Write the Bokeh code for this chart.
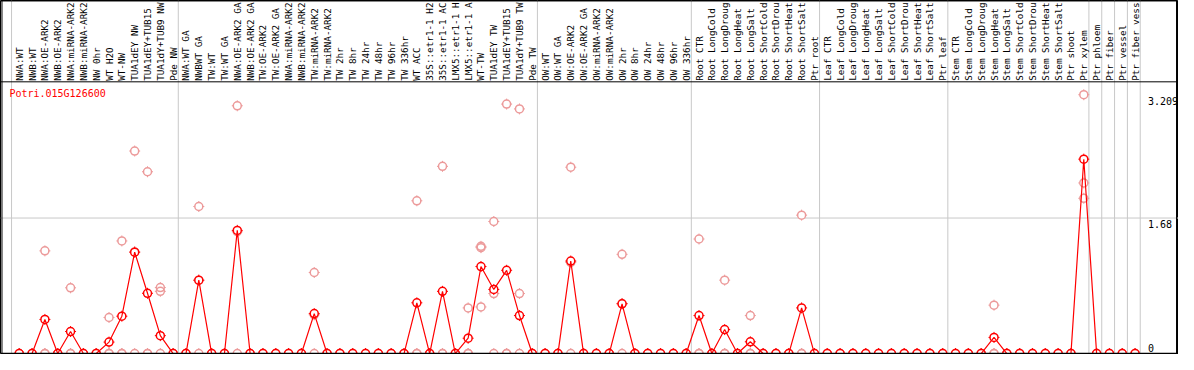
import numpy as np
from bokeh.plotting import figure
from bokeh.models import Range1d, Span, ColumnDataSource
from bokeh.core.properties import value
from bokeh.embed import file_html
from bokeh.resources import INLINE

gene = "Potri.015G126600"

labels = [
    "NWA:WT", "NWB:WT", "NWA:OE-ARK2", "NWB:OE-ARK2", "NWA:miRNA-ARK2", "NWB:miRNA-ARK2",
    "NW 0hr", "WT H2O", "WT-NW", "TUA1dEY NW", "TUA1dEY+TUB15 NW", "TUA1dY+TUB9 NW", "Pde NW",
    "NWA:WT GA", "NWBWT GA", "TW:WT", "TW:WT GA", "NWA:OE-ARK2 GA", "NWB:OE-ARK2 GA",
    "TW:OE-ARK2", "TW:OE-ARK2 GA", "NWA:miRNA-ARK2 GA", "NWB:miRNA-ARK2 GA", "TW:miRNA-ARK2",
    "TW:miRNA-ARK2 GA", "TW 2hr", "TW 8hr", "TW 24hr", "TW 48hr", "TW 96hr", "TW 336hr",
    "WT ACC", "35S::etr1-1 H2O", "35S::etr1-1 ACC", "LMX5::etr1-1 H2O", "LMX5::etr1-1 ACC",
    "WT-TW", "TUA1dEY TW", "TUA1dEY+TUB15 TW", "TUA1dY+TUB9 TW", "Pde TW",
    "OW:WT", "OW:WT GA", "OW:OE-ARK2", "OW:OE-ARK2 GA", "OW:miRNA-ARK2", "OW:miRNA-ARK2 GA",
    "OW 2hr", "OW 8hr", "OW 24hr", "OW 48hr", "OW 96hr", "OW 336hr",
    "Root CTR", "Root LongCold", "Root LongDrought", "Root LongHeat", "Root LongSalt",
    "Root ShortCold", "Root ShortDrought", "Root ShortHeat", "Root ShortSalt", "Ptr root",
    "Leaf CTR", "Leaf LongCold", "Leaf LongDrought", "Leaf LongHeat", "Leaf LongSalt",
    "Leaf ShortCold", "Leaf ShortDrought", "Leaf ShortHeat", "Leaf ShortSalt", "Ptr leaf",
    "Stem CTR", "Stem LongCold", "Stem LongDrought", "Stem LongHeat", "Stem LongSalt",
    "Stem ShortCold", "Stem ShortDrought", "Stem ShortHeat", "Stem ShortSalt", "Ptr shoot",
    "Ptr xylem", "Ptr phloem", "Ptr fiber", "Ptr vessel", "Ptr fiber vessel",
]

group_sizes = [13, 28, 12, 10, 10, 11, 1, 1, 1, 1]

means = [
    0, 0, 0.423, 0, 0.273, 0, 0, 0.142, 0.463, 1.257, 0.747, 0.222, 0,
    0, 0.910, 0, 0, 1.527, 0, 0, 0, 0, 0, 0.495, 0, 0, 0, 0, 0, 0, 0,
    0.629, 0, 0.771, 0, 0.190, 1.079, 0.795, 1.032, 0.471, 0,
    0, 0, 1.147, 0, 0, 0, 0.617, 0, 0, 0, 0, 0,
    0.471, 0, 0.297, 0, 0.146, 0, 0, 0, 0.566, 0,
    0, 0, 0, 0, 0, 0, 0, 0, 0, 0,
    0, 0, 0, 0.200, 0, 0, 0, 0, 0, 0, 2.410,
    0, 0, 0, 0,
]

rep_a = [
    0, 0, 1.273, 0, 0.815, 0, 0, 0.447, 1.396, 2.511, 2.254, 0.818, 0,
    0, 1.823, 0, 0, 3.072, 0, 0, 0, 0, 0, 1.005, 0, 0, 0, 0, 0, 0, 0,
    1.894, 0, 2.321, 0, 0.566, 1.329, 1.637, 3.093, 3.033, 0,
    0, 0, 2.310, 0, 0, 0, 1.230, 0, 0, 0, 0, 0,
    1.420, 0, 0.910, 0, 0.471, 0, 0, 0, 1.716, 0,
    0, 0, 0, 0, 0, 0, 0, 0, 0, 0,
    0, 0, 0, 0.600, 0, 0, 0, 0, 0, 0, 3.209,
    0, 0, 0, 0,
]

rep_b = [
    0, 0, 0, 0, 0, 0, 0, 0, 0, 1.260, 0, 0.771, 0,
    0, 0.907, 0, 0, 1.510, 0, 0, 0, 0, 0, 0.480, 0, 0, 0, 0, 0, 0, 0,
    0, 0, 0, 0, 0, 1.313, 0.744, 0, 0.744, 0,
    0, 0, 1.130, 0, 0, 0, 0.620, 0, 0, 0, 0, 0,
    0, 0, 0, 0, 0, 0, 0, 0, 0, 0,
    0, 0, 0, 0, 0, 0, 0, 0, 0, 0,
    0, 0, 0, 0, 0, 0, 0, 0, 0, 0, 2.115,
    0, 0, 0, 0,
]

rep_c = [
    0, 0, 0, 0, 0, 0, 0, 0, 0, 0, 0, 0, 0,
    0, 0, 0, 0, 0, 0, 0, 0, 0, 0, 0, 0, 0, 0, 0, 0, 0, 0,
    0, 0, 0, 0, 0, 0.578, 0, 0, 0, 0,
    0, 0, 0, 0, 0, 0, 0, 0, 0, 0, 0, 0,
    0, 0, 0, 0, 0, 0, 0, 0, 0, 0,
    0, 0, 0, 0, 0, 0, 0, 0, 0, 0,
    0, 0, 0, 0, 0, 0, 0, 0, 0, 0, 1.925,
    0, 0, 0, 0,
]

ticks = [3.209, 1.68, 0]
tick_labels = ["3.209", "1.68", "0"]

# ---------------- layout ----------------
W, H = 1178, 354
PX_X = 13.0          # reference pixels per category
PX_Y = 84.3          # reference pixels per unit
REF_W, REF_H = 1194, 370
X0_REF, Y0_REF = 19, 369   # reference pixel of category 0 / value 0
MAX_CHARS = 14             # header column shows at most this many characters

def vx(px):  # reference x pixel -> data x
    return (px - X0_REF) / PX_X

def vy(py):  # reference y pixel -> data y
    return (Y0_REF - py) / PX_Y

FONT = value("DejaVu Sans Mono")
RED = "#ff0000"
PINK = "#ec9a9a"
GRAY = "#c8c8c8"

p = figure(width=W, height=H, output_backend="svg", toolbar_location=None,
           x_range=Range1d(vx(0), vx(REF_W)), y_range=Range1d(vy(REF_H), vy(0)),
           min_border=0, min_border_left=0, min_border_right=0,
           min_border_top=0, min_border_bottom=0)
p.xaxis.visible = False
p.yaxis.visible = False
p.grid.visible = False
p.outline_line_color = "black"
p.outline_line_width = 1
p.background_fill_color = "white"
p.border_fill_color = "white"

n = len(labels)
xs = np.arange(n)

# group separators
bounds = [-0.6] + [c - 0.6 for c in np.cumsum(group_sizes)]
for b in bounds:
    p.add_layout(Span(location=b, dimension="height", line_color=GRAY, line_width=1, level="underlay"))
# middle reference line
p.add_layout(Span(location=ticks[1], dimension="width", line_color=GRAY, line_width=1, level="underlay"))

# frame lines
p.add_layout(Span(location=vy(85), dimension="width", line_color="black", line_width=1))
p.add_layout(Span(location=0, dimension="width", line_color="black", line_width=1.5))
p.add_layout(Span(location=vx(1.5), dimension="height", line_color="black", line_width=1))
p.add_layout(Span(location=vx(1192), dimension="height", line_color="black", line_width=1))
p.add_layout(Span(location=vy(0.5), dimension="width", line_color="black", line_width=1))

# category labels (rotated, column header shows the first characters only)
shown = [s[:MAX_CHARS].rstrip() for s in labels]
lab_src = ColumnDataSource(dict(x=xs, y=[vy(84)] * n, t=shown))
p.text(x="x", y="y", text="t", source=lab_src, angle=np.pi / 2, text_align="left",
       text_baseline="middle", text_font=FONT, text_font_size="9.3px", text_color="black")

# replicates
rx = np.concatenate([xs, xs, xs])
ry = np.concatenate([rep_a, rep_b, rep_c])
rep_src = ColumnDataSource(dict(x=rx, y=ry))
p.scatter(x="x", y="y", source=rep_src, marker="cross", size=11, line_color=PINK, line_width=1)
p.scatter(x="x", y="y", source=rep_src, marker="circle", size=8, fill_color="white", line_color=None)
p.scatter(x="x", y="y", source=rep_src, marker="circle", size=8, fill_color=None,
          line_color=PINK, line_width=1.5)

# means
m_src = ColumnDataSource(dict(x=xs, y=means))
p.scatter(x="x", y="y", source=m_src, marker="cross", size=11, line_color=RED, line_width=1)
p.scatter(x="x", y="y", source=m_src, marker="circle", size=8, fill_color="white", line_color=None)
p.line(x="x", y="y", source=m_src, line_color=RED, line_width=1.2)
p.scatter(x="x", y="y", source=m_src, marker="circle", size=8, fill_color=None,
          line_color=RED, line_width=1.5)

# gene title
p.text(x=[vx(9)], y=[vy(97)], text=[gene], text_align="left", text_baseline="middle",
       text_font=FONT, text_font_size="10px", text_color=RED)

# value labels on the right
p.text(x=[vx(1163)] * 2, y=ticks[:2], text=tick_labels[:2], text_align="left",
       text_baseline="top", y_offset=2, text_font=FONT, text_font_size="10px", text_color="black")
p.text(x=[vx(1163)], y=ticks[2:], text=tick_labels[2:], text_align="left",
       text_baseline="bottom", y_offset=-2, text_font=FONT, text_font_size="10px", text_color="black")

open("out.html", "w").write(file_html(p, INLINE))
